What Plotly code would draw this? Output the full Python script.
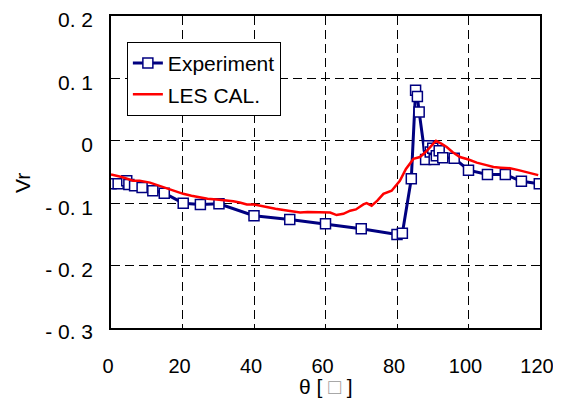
import plotly.graph_objects as go

# Experiment data
exp_theta = [0, 2, 4.4, 5, 6.6, 8.7, 11.7, 14.9, 20.2, 25, 30.2, 40, 50, 60, 70, 80,
             81.5, 84, 85.2, 85.7, 86.2, 88, 88.8, 89.3, 90, 90.4, 91, 91.8, 92.8,
             96, 100, 105.3, 110.3, 114.8, 119.8]
exp_vr = [-0.069, -0.069, -0.064, -0.070, -0.072, -0.075, -0.080, -0.084, -0.100,
          -0.102, -0.101, -0.120, -0.126, -0.133, -0.141, -0.150,
          -0.148, -0.061, 0.081, 0.071, 0.046, -0.030, -0.008, -0.018, -0.012,
          -0.030, -0.024, -0.016, -0.027, -0.028, -0.047, -0.054, -0.054, -0.065, -0.069]

# LES calculation
les_theta = [0, 3, 6.2, 8, 10.9, 13, 15.6, 18, 20.2, 22.5, 24.9, 27, 29.6, 32, 34.2, 36,
             38, 40, 43, 46, 49.6, 52.9, 55, 57.5, 59.9, 61.3, 63.1, 65, 66.9, 68.5,
             70.6, 71.5, 72.9, 74.5, 76.2, 78.5, 80.8, 82.5, 84.6, 86.4, 88, 89.2,
             90.9, 92.5, 93.9, 95.5, 97.6, 100, 102.3, 105, 107, 109, 111.6, 114,
             116.3, 118, 119.5]
les_vr = [-0.054, -0.058, -0.064, -0.064, -0.067, -0.071, -0.075, -0.080, -0.085,
          -0.088, -0.091, -0.093, -0.094, -0.095, -0.097, -0.099, -0.102, -0.102,
          -0.106, -0.109, -0.112, -0.115, -0.114, -0.114, -0.115, -0.115, -0.119,
          -0.117, -0.112, -0.110, -0.102, -0.100, -0.104, -0.096, -0.085, -0.080,
          -0.064, -0.045, -0.029, -0.026, -0.018, -0.010, 0.000, -0.005, -0.010,
          -0.018, -0.026, -0.030, -0.035, -0.039, -0.042, -0.043, -0.044, -0.047,
          -0.050, -0.052, -0.055]

y_tickvals = [-0.3, -0.2, -0.1, 0, 0.1, 0.2]
y_ticktext = ["- 0. 3", "- 0. 2", "- 0. 1", "0", "0. 1", "0. 2"]
x_tickvals = [0, 20, 40, 60, 80, 100, 120]

FONT = "Liberation Sans, Arial, sans-serif"

fig = go.Figure()
fig.add_trace(go.Scatter(
    x=exp_theta, y=exp_vr, mode="lines+markers", name="Experiment",
    legendgroup="a",
    line=dict(color="#000080", width=3),
    marker=dict(symbol="square", size=10, color="white",
                line=dict(color="#000080", width=1.5)),
))
fig.add_trace(go.Scatter(
    x=les_theta, y=les_vr, mode="lines", name="LES CAL.",
    legendgroup="b",
    line=dict(color="#FF0000", width=2.5),
))

grid = dict(showgrid=True, gridcolor="black", gridwidth=1, griddash="9px,5px")

# page body has an 8px margin, so the figure is sized to fit the window
fig.update_layout(
    width=545, height=395,
    margin=dict(l=103, r=13, t=8, b=75),
    paper_bgcolor="white", plot_bgcolor="white",
    font=dict(family=FONT, size=21, color="black"),
    showlegend=True,
    legend=dict(x=0.037, y=0.917, xanchor="left", yanchor="top",
                bordercolor="black", borderwidth=1, bgcolor="white",
                font=dict(size=21), tracegroupgap=1, traceorder="grouped"),
    xaxis=dict(range=[0, 120], tickvals=x_tickvals, ticks="", showline=True,
               linecolor="black", linewidth=1.5, mirror=True, zeroline=False,
               ticklabelstandoff=19, automargin=False, ticklabeloverflow="allow",
               tickfont=dict(size=20), ticklabelshift=-3, **grid),
    yaxis=dict(range=[-0.3, 0.2], tickvals=y_tickvals, ticktext=y_ticktext,
               ticks="", showline=True, linecolor="black", linewidth=1.5,
               mirror=True, zeroline=False, ticklabelstandoff=12,
               ticklabelshift=4,
               automargin=False, ticklabeloverflow="allow", **grid),
    annotations=[
        dict(text="Vr", xref="paper", yref="paper", x=-0.205, y=0.465,
             xanchor="center", yanchor="middle", textangle=-90, showarrow=False,
             font=dict(size=21)),
        dict(text="θ [ <span style='color:#999999'>□</span> ]", xref="paper",
             yref="paper", x=0.5, y=-0.186, xanchor="center", yanchor="middle",
             showarrow=False, font=dict(size=21)),
    ],
)

fig.write_html("out.html")
